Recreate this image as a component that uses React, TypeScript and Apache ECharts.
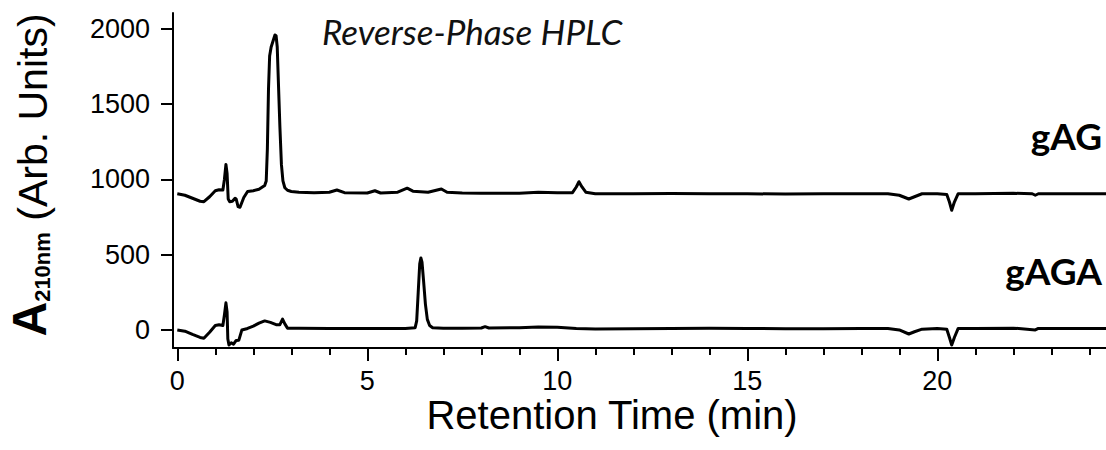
import React, { useEffect, useRef } from "react";
import * as echarts from "echarts";

// Retention time (min) and absorbance (arb. units) for each trace
const gagTime = [
  0, 0.2, 0.4, 0.6, 0.7, 0.85, 1.0, 1.1, 1.2, 1.24, 1.28, 1.31, 1.34, 1.38, 1.45, 1.52, 1.55, 1.6, 1.65, 1.75,
  1.85, 2.0, 2.15, 2.3, 2.34, 2.37, 2.4, 2.43, 2.47, 2.52, 2.57, 2.6, 2.63, 2.66, 2.7, 2.74, 2.78, 2.83, 2.9, 3.0,
  3.2, 3.6, 4.0, 4.2, 4.4, 5.0, 5.2, 5.35, 5.8, 6.05, 6.2, 6.6, 6.95, 7.1, 7.5, 8, 9, 9.5, 10, 10.4,
  10.5, 10.57, 10.65, 10.75, 11, 12, 13, 14, 15, 16, 17, 18, 18.7, 19.0, 19.25, 19.4, 19.6, 20.0, 20.25, 20.32,
  20.38, 20.45, 20.55, 21, 22, 22.5, 22.58, 22.66, 23, 24, 24.45,
];
const gagValue = [
  905, 895, 875, 855, 852, 885, 925, 932, 930, 1000, 1100, 1040, 870, 852, 855, 875, 870, 820, 815, 880,
  920, 925, 935, 960, 990, 1200, 1600, 1820, 1880, 1920, 1960, 1955, 1880, 1650, 1350, 1100, 990, 945, 928, 920,
  915, 912, 915, 930, 912, 910, 925, 910, 915, 942, 922, 915, 937, 915, 910, 908, 908, 915, 912, 912,
  950, 985, 950, 915, 905, 905, 907, 905, 905, 903, 905, 905, 905, 895, 870, 885, 905, 905, 900, 850,
  795, 850, 905, 905, 908, 905, 895, 905, 905, 905, 905,
];

const gagaTime = [
  0, 0.2, 0.4, 0.6, 0.7, 0.85, 1.0, 1.1, 1.2, 1.24, 1.28, 1.31, 1.33, 1.36, 1.42, 1.48, 1.55, 1.62, 1.7, 1.85,
  2.0, 2.15, 2.3, 2.45, 2.6, 2.7, 2.77, 2.83, 2.9, 3.2, 4, 5, 6, 6.26, 6.3, 6.34, 6.38, 6.41, 6.44, 6.48,
  6.53, 6.58, 6.64, 6.72, 7, 7.5, 8, 8.1, 8.2, 9, 9.5, 10, 10.5, 11, 12, 13, 14, 15, 16, 17,
  18, 18.7, 19.0, 19.25, 19.4, 19.6, 20.0, 20.25, 20.32, 20.38, 20.45, 20.55, 21, 22, 22.58, 22.66, 23, 24, 24.45,
];
const gagaValue = [
  0, -8, -30, -50, -55, -15, 30, 35, 30, 100, 180, 120, -60, -100, -85, -95, -70, -68, 0, 10,
  25, 45, 60, 50, 35, 35, 72, 40, 12, 12, 10, 10, 10, 15, 60, 250, 440, 478, 450, 330,
  170, 70, 30, 15, 12, 12, 13, 22, 13, 15, 20, 18, 10, 7, 8, 10, 12, 10, 8, 8,
  10, 10, 0, -27, -12, 5, 10, 5, -50, -100, -50, 10, 10, 12, 0, 10, 10, 10, 10,
];

const yTicks = [0, 500, 1000, 1500, 2000];
const xMajorTicks = [0, 5, 10, 15, 20];
const xMinorTicks = [0, 1, 2, 3, 4, 5, 6, 7, 8, 9, 10, 11, 12, 13, 14, 15, 16, 17, 18, 19, 20, 21, 22, 23, 24];
const traceNames = ["gAG", "gAGA"];

const zip = (t: number[], v: number[]) => t.map((x, i) => [x, v[i]]);

export default function App() {
  const ref = useRef<HTMLDivElement>(null);
  useEffect(() => {
    if (!ref.current) return;
    const chart = echarts.init(ref.current, null, { renderer: "svg" });
    const axisColor = "#000";
    const xCommon = {
      type: "value" as const,
      min: -0.113,
      max: 24.44,
      position: "bottom" as const,
      splitLine: { show: false },
    };
    chart.setOption({
      animation: false,
      grid: { left: 173, right: 0, top: 13, bottom: 102, containLabel: false },
      xAxis: [
        {
          ...xCommon,
          axisLine: { show: true, onZero: false, lineStyle: { color: axisColor, width: 2 } },
          axisTick: { show: true, customValues: xMajorTicks, length: 13, lineStyle: { color: axisColor, width: 2 } },
          axisLabel: {
            show: true,
            customValues: xMajorTicks,
            margin: 19,
            fontFamily: "Liberation Sans",
            fontSize: 27,
            color: "#000",
            formatter: (v: number) => String(v),
          },
        },
        {
          ...xCommon,
          axisLine: { show: false, onZero: false },
          axisTick: { show: true, customValues: xMinorTicks, length: 7, lineStyle: { color: axisColor, width: 2 } },
          axisLabel: { show: false },
        },
      ],
      yAxis: {
        type: "value",
        min: -120,
        max: 2106,
        splitLine: { show: false },
        axisLine: { show: true, onZero: false, lineStyle: { color: axisColor, width: 2 } },
        axisTick: { show: true, customValues: yTicks, length: 12, lineStyle: { color: axisColor, width: 2 } },
        axisLabel: {
          show: true,
          customValues: yTicks,
          margin: 23,
          fontFamily: "Liberation Sans",
          fontSize: 27,
          color: "#000",
          formatter: (v: number) => String(v),
        },
      },
      series: [
        {
          name: traceNames[0],
          type: "line",
          xAxisIndex: 0,
          data: zip(gagTime, gagValue),
          showSymbol: false,
          lineStyle: { color: "#000", width: 3, join: "round" },
          itemStyle: { color: "#000" },
        },
        {
          name: traceNames[1],
          type: "line",
          xAxisIndex: 0,
          data: zip(gagaTime, gagaValue),
          showSymbol: false,
          lineStyle: { color: "#000", width: 3, join: "round" },
          itemStyle: { color: "#000" },
        },
      ],
      graphic: [
        {
          type: "text",
          x: 322,
          y: 31,
          style: {
            text: "Reverse-Phase HPLC",
            font: "italic 35px Lato",
            fill: "#111",
            align: "left",
            verticalAlign: "middle",
          },
        },
        {
          type: "text",
          x: 1102,
          y: 135,
          style: {
            text: traceNames[0],
            font: "bold 37px Lato",
            fill: "#000",
            align: "right",
            verticalAlign: "middle",
          },
        },
        {
          type: "text",
          x: 1102,
          y: 270,
          style: {
            text: traceNames[1],
            font: "bold 37px Lato",
            fill: "#000",
            align: "right",
            verticalAlign: "middle",
          },
        },
        {
          type: "text",
          x: 612,
          y: 415,
          style: {
            text: "Retention Time (min)",
            font: "40px Liberation Sans",
            fill: "#000",
            align: "center",
            verticalAlign: "middle",
          },
        },
        {
          type: "text",
          x: 29,
          y: 175,
          rotation: Math.PI / 2,
          style: {
            text: "{a|A}{s|210nm}{b| (Arb. Units)}",
            align: "center",
            verticalAlign: "middle",
            fill: "#000",
            rich: {
              a: { fontFamily: "Liberation Sans", fontWeight: "bold", fontSize: 48, lineHeight: 48, verticalAlign: "bottom", fill: "#000" },
              s: { fontFamily: "Liberation Sans", fontWeight: "bold", fontSize: 22, lineHeight: 22, verticalAlign: "bottom", fill: "#000" },
              b: { fontFamily: "Liberation Sans", fontSize: 41, lineHeight: 41, verticalAlign: "bottom", fill: "#000" },
            },
          },
        },
      ],
    });
    return () => chart.dispose();
  }, []);
  return <div ref={ref} style={{ position: "absolute", left: 0, top: 0, width: 1106, height: 450 }} />;
}
